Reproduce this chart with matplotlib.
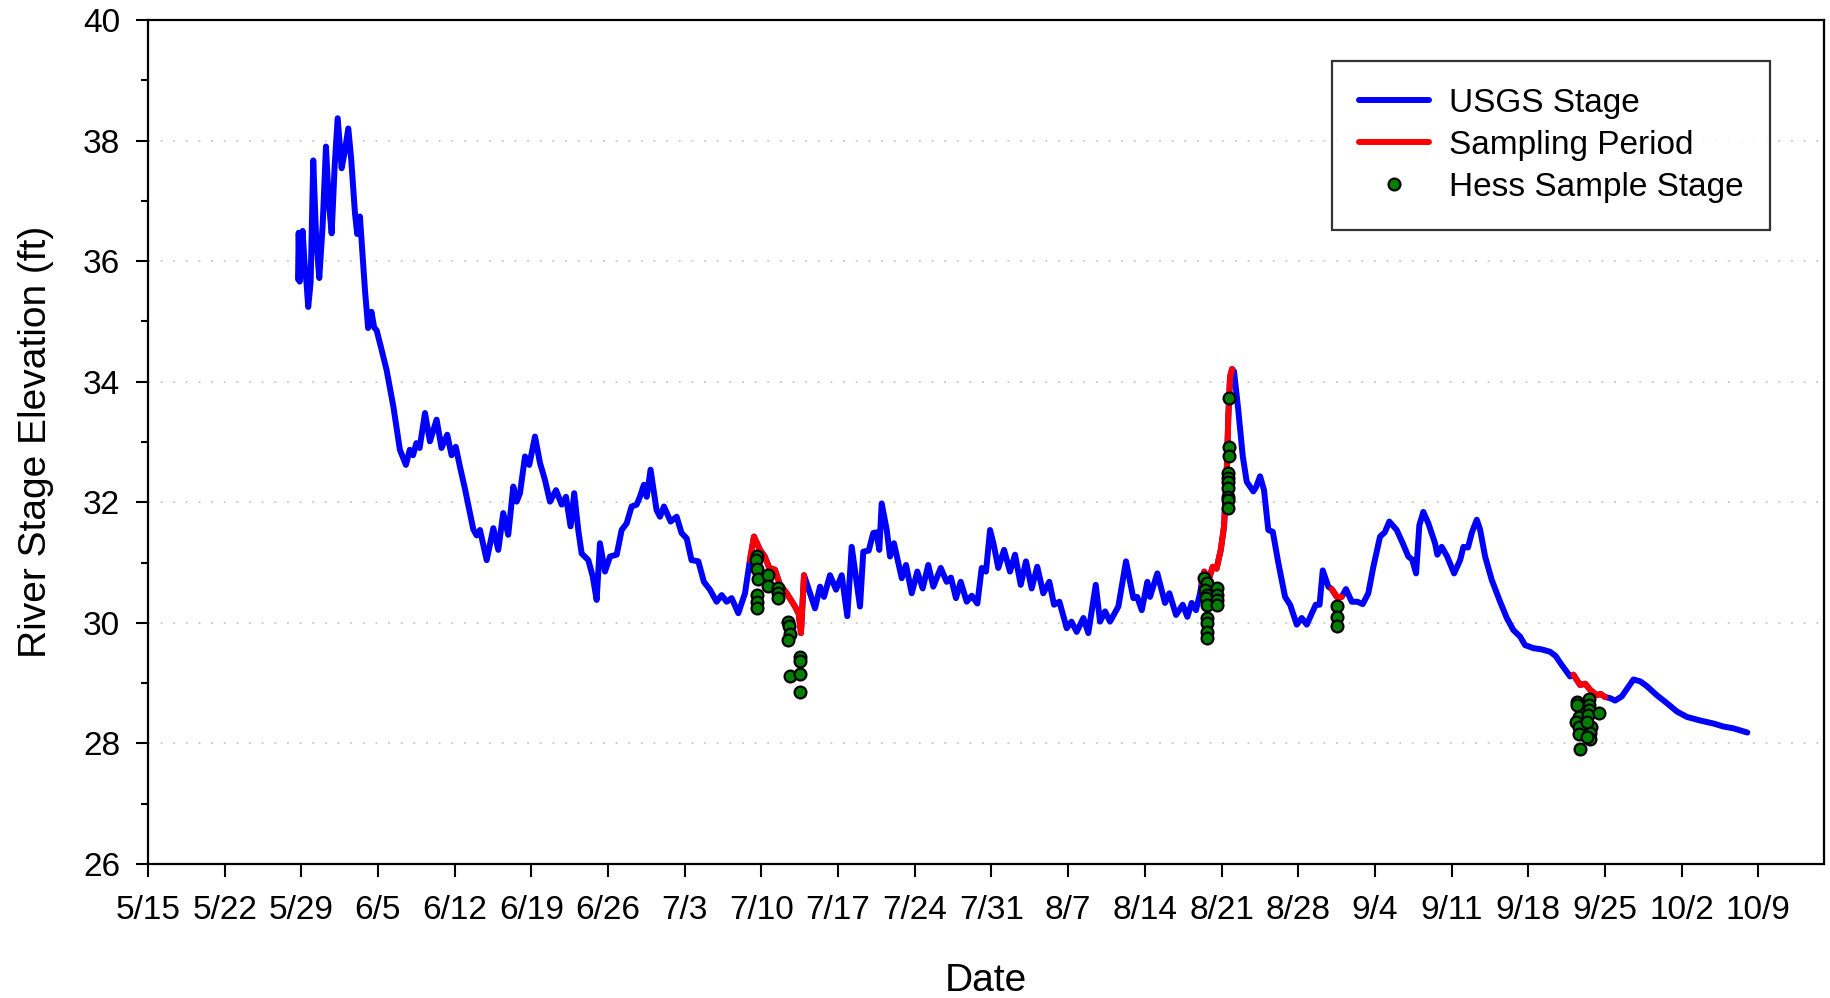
import numpy as np
import matplotlib
matplotlib.use("Agg")
import matplotlib.pyplot as plt
from matplotlib.ticker import MultipleLocator

plt.rcParams["font.family"] = ["Liberation Sans", "DejaVu Sans"]

# days after 5/15 and river stage (ft)
stage_day = [
    13.70, 13.76, 13.85, 14.00, 14.12, 14.30, 14.45, 14.63, 14.85, 15.09,
    15.35, 15.64, 15.95, 16.25, 16.50, 16.77, 17.05, 17.32, 17.68, 17.95,
    18.29, 18.55, 18.90, 19.10, 19.35, 19.81, 20.10, 20.40, 20.65, 20.88,
    21.30, 21.79, 22.40, 23.00, 23.55, 23.90, 24.20, 24.50, 24.80, 25.29,
    25.74, 26.35, 26.80, 27.32, 27.72, 28.10, 28.48, 28.93, 29.30, 29.70,
    30.00, 30.31, 30.92, 31.53, 31.98, 32.43, 32.89, 33.35, 33.66, 33.96,
    34.42, 34.81, 35.33, 35.79, 36.24, 36.70, 37.25, 37.77, 38.16, 38.58,
    38.91, 39.28, 39.59, 40.20, 40.60, 40.96, 41.26, 41.72, 42.18, 42.79,
    43.24, 43.70, 44.15, 44.61, 44.91, 45.27, 45.53, 45.88, 46.43, 46.74,
    47.10, 47.71, 48.26, 48.71, 49.18, 49.62, 50.24, 50.75, 51.30, 51.91,
    52.37, 52.83, 53.28, 53.89, 54.50, 54.95, 55.32, 55.87, 56.30, 56.72,
    57.24, 57.69, 58.31, 59.07, 59.40, 59.61, 59.89, 60.13, 60.89, 61.35,
    61.71, 62.26, 62.81, 63.33, 63.84, 64.24, 65.00, 65.30, 65.80, 66.21,
    66.50, 66.76, 66.98, 67.44, 67.74, 68.10, 68.81, 69.20, 69.72, 70.23,
    70.72, 71.23, 71.69, 72.37, 72.91, 73.30, 73.76, 74.19, 74.74, 75.20,
    75.71, 76.11, 76.50, 76.87, 77.20, 77.62, 78.15, 78.69, 79.15, 79.67,
    80.15, 80.67, 81.18, 81.73, 82.28, 82.71, 83.20, 83.87, 84.30, 84.78,
    85.39, 85.84, 86.52, 86.91, 87.37, 87.82, 88.58, 89.28, 89.95, 90.30,
    90.72, 91.23, 91.47, 92.14, 92.84, 93.24, 93.85, 94.46, 94.88, 95.28,
    95.67, 96.04, 96.19, 96.43, 96.80, 97.20, 97.55, 97.93, 98.23, 98.48,
    98.62, 98.78, 98.96, 99.14, 99.53, 99.94, 100.30, 100.90, 101.15, 101.52,
    101.88, 102.27, 102.68, 103.19, 103.80, 104.26, 104.87, 105.32, 105.78, 106.60,
    106.95, 107.24, 107.75, 108.06, 108.52, 108.97, 109.36, 109.89, 110.40, 110.89,
    111.40, 111.86, 112.47, 112.90, 113.32, 113.99, 114.54, 115.05, 115.40, 115.76,
    116.06, 116.42, 116.88, 117.49, 117.70, 118.10, 118.60, 119.23, 119.78, 120.08,
    120.50, 120.84, 121.30, 121.60, 122.06, 122.67, 123.43, 124.04, 124.64, 125.26,
    125.71, 126.47, 127.20, 127.99, 128.50, 129.06, 129.82, 130.12, 130.73, 131.20,
    131.64, 132.25, 132.60, 133.01, 133.47, 133.93, 134.54, 135.14, 135.60, 136.21,
    136.82, 137.73, 138.64, 139.56, 140.47, 141.69, 142.90, 143.81, 144.73, 146.00,
]
stage_ft = [
    35.70, 36.47, 35.66, 35.85, 36.50, 35.95, 35.70, 35.24, 35.65, 37.67,
    36.40, 35.72, 36.60, 37.90, 37.00, 36.46, 37.60, 38.37, 37.54, 37.80,
    38.20, 37.70, 36.79, 36.45, 36.74, 35.52, 34.89, 35.16, 34.90, 34.85,
    34.55, 34.19, 33.59, 32.87, 32.62, 32.87, 32.78, 32.98, 32.90, 33.48,
    33.01, 33.37, 32.90, 33.12, 32.78, 32.92, 32.59, 32.23, 31.90, 31.55,
    31.45, 31.54, 31.04, 31.57, 31.21, 31.82, 31.46, 32.26, 32.01, 32.15,
    32.76, 32.62, 33.09, 32.65, 32.37, 32.01, 32.20, 31.96, 32.09, 31.60,
    32.15, 31.54, 31.15, 31.04, 30.77, 30.38, 31.32, 30.85, 31.10, 31.13,
    31.54, 31.65, 31.93, 31.96, 32.09, 32.29, 32.09, 32.54, 31.87, 31.76,
    31.93, 31.68, 31.76, 31.49, 31.40, 31.04, 31.02, 30.68, 30.55, 30.35,
    30.46, 30.35, 30.41, 30.16, 30.49, 31.04, 31.43, 31.21, 31.10, 30.91,
    30.88, 30.63, 30.49, 30.27, 30.15, 29.83, 30.79, 30.66, 30.24, 30.60,
    30.43, 30.79, 30.55, 30.79, 30.11, 31.26, 30.27, 31.18, 31.20, 31.49,
    31.50, 31.21, 31.98, 31.54, 31.10, 31.32, 30.74, 30.96, 30.49, 30.85,
    30.57, 30.96, 30.60, 30.91, 30.68, 30.75, 30.41, 30.68, 30.35, 30.45,
    30.32, 30.91, 30.85, 31.54, 31.30, 30.91, 31.21, 30.85, 31.13, 30.63,
    31.02, 30.57, 30.93, 30.49, 30.68, 30.30, 30.35, 29.91, 30.02, 29.85,
    30.08, 29.83, 30.63, 30.02, 30.19, 30.02, 30.27, 31.02, 30.41, 30.43,
    30.21, 30.68, 30.43, 30.82, 30.33, 30.49, 30.13, 30.30, 30.10, 30.33,
    30.21, 30.49, 30.66, 30.85, 30.70, 30.93, 30.90, 31.21, 31.60, 32.54,
    33.42, 34.08, 34.21, 34.17, 33.53, 32.76, 32.34, 32.18, 32.25, 32.43,
    32.20, 31.54, 31.51, 30.99, 30.43, 30.30, 29.97, 30.08, 29.97, 30.30,
    30.30, 30.87, 30.60, 30.56, 30.43, 30.43, 30.56, 30.35, 30.35, 30.31,
    30.49, 30.93, 31.43, 31.50, 31.68, 31.54, 31.32, 31.10, 31.05, 30.82,
    31.62, 31.84, 31.65, 31.32, 31.13, 31.26, 31.10, 30.82, 31.04, 31.26,
    31.25, 31.49, 31.71, 31.55, 31.10, 30.71, 30.35, 30.08, 29.88, 29.77,
    29.63, 29.58, 29.56, 29.52, 29.45, 29.30, 29.11, 29.14, 28.97, 28.99,
    28.89, 28.80, 28.82, 28.77, 28.75, 28.71, 28.78, 28.94, 29.06, 29.03,
    28.95, 28.80, 28.67, 28.53, 28.44, 28.38, 28.33, 28.28, 28.25, 28.18,
]

# sampling periods (start day, end day)
sampling_periods = [(54.95, 59.89), (96.19, 98.96), (108.06, 108.97), (130.12, 133.01)]

# Hess sample stages
hess_day = [
    55.63, 55.51, 55.57, 55.72, 55.63, 55.63, 55.63, 56.63, 56.63, 57.54,
    57.54, 57.54, 58.45, 58.55, 58.61, 58.45, 59.52, 59.52, 58.61, 59.52,
    59.52,
    96.43, 96.65, 96.49, 96.65, 96.60, 96.65, 96.71, 96.71, 96.71, 96.71,
    97.56, 97.60, 97.56, 97.60, 98.69, 98.69, 98.69, 98.62, 98.62, 98.62,
    98.60, 98.62, 98.60, 98.60,
    108.52, 108.52, 108.52,
    130.43, 130.49, 131.58, 131.58, 131.52, 130.61, 131.46, 132.49, 130.37, 130.67,
    131.71, 130.61, 131.64, 131.64, 131.40, 130.73, 131.40,
]
hess_ft = [
    31.11, 31.04, 30.89, 30.73, 30.46, 30.35, 30.25, 30.80, 30.61, 30.57,
    30.49, 30.42, 30.02, 29.94, 29.82, 29.71, 29.44, 29.36, 29.12, 29.15,
    28.86,
    30.74, 30.66, 30.55, 30.46, 30.41, 30.30, 30.08, 30.00, 29.85, 29.74,
    30.57, 30.46, 30.38, 30.30, 33.73, 32.91, 32.77, 32.48, 32.40, 32.34,
    32.23, 32.09, 32.03, 31.90,
    30.28, 30.10, 29.94,
    28.69, 28.64, 28.74, 28.64, 28.56, 28.44, 28.47, 28.50, 28.36, 28.27,
    28.28, 28.16, 28.18, 28.07, 28.11, 27.91, 28.36,
]

tick_days = list(range(0, 148, 7))
tick_labels = ["5/15", "5/22", "5/29", "6/5", "6/12", "6/19", "6/26", "7/3",
               "7/10", "7/17", "7/24", "7/31", "8/7", "8/14", "8/21", "8/28",
               "9/4", "9/11", "9/18", "9/25", "10/2", "10/9"]

x = np.array(stage_day)
y = np.array(stage_ft)

fig = plt.figure(figsize=(18.31, 9.98), dpi=100)
ax = fig.add_axes([0.0808, 0.1343, 0.9154, 0.8457])

ax.plot(x, y, color="#0000ff", lw=4.3, solid_joinstyle="round",
        solid_capstyle="round", label="USGS Stage", zorder=3)
first = True
for (a, b) in sampling_periods:
    m = (x >= a - 1e-6) & (x <= b + 1e-6)
    ax.plot(x[m], y[m], color="#ff0000", lw=4.3, solid_joinstyle="round",
            solid_capstyle="round", label="Sampling Period" if first else None,
            zorder=4)
    first = False
ax.plot(hess_day, hess_ft, "o", ms=8.5, mfc="#008000", mec="black", mew=1.6,
        ls="none", label="Hess Sample Stage", zorder=5)

ax.set_xlim(0, 153)
ax.set_ylim(26, 40)
ax.set_xticks(tick_days)
ax.set_xticklabels(tick_labels)
ax.yaxis.set_major_locator(MultipleLocator(2))
ax.yaxis.set_minor_locator(MultipleLocator(1))

for yy in range(28, 40, 2):
    ax.axhline(yy, color="#c8c8c8", lw=1.3, ls=(0, (1, 6)), zorder=1)

ax.tick_params(axis="both", which="major", direction="out", length=9, width=1.5,
               labelsize=24)
ax.tick_params(axis="y", which="major", pad=11)
ax.tick_params(axis="x", which="major", pad=13)
ax.tick_params(axis="y", which="minor", direction="out", length=5, width=1.5)
for s in ax.spines.values():
    s.set_linewidth(1.6)

ax.set_xlabel("Date", fontsize=28, labelpad=27)
ax.set_ylabel("River Stage Elevation (ft)", fontsize=28, labelpad=21)

leg = ax.legend(loc="upper right", bbox_to_anchor=(0.968, 0.951), borderaxespad=0,
                fontsize=24, frameon=True, fancybox=False, edgecolor="black",
                handlelength=2.1, handletextpad=0.6, labelspacing=0.33,
                borderpad=0.8)
leg.get_frame().set_linewidth(1.6)

plt.savefig("out.png", dpi=100)
